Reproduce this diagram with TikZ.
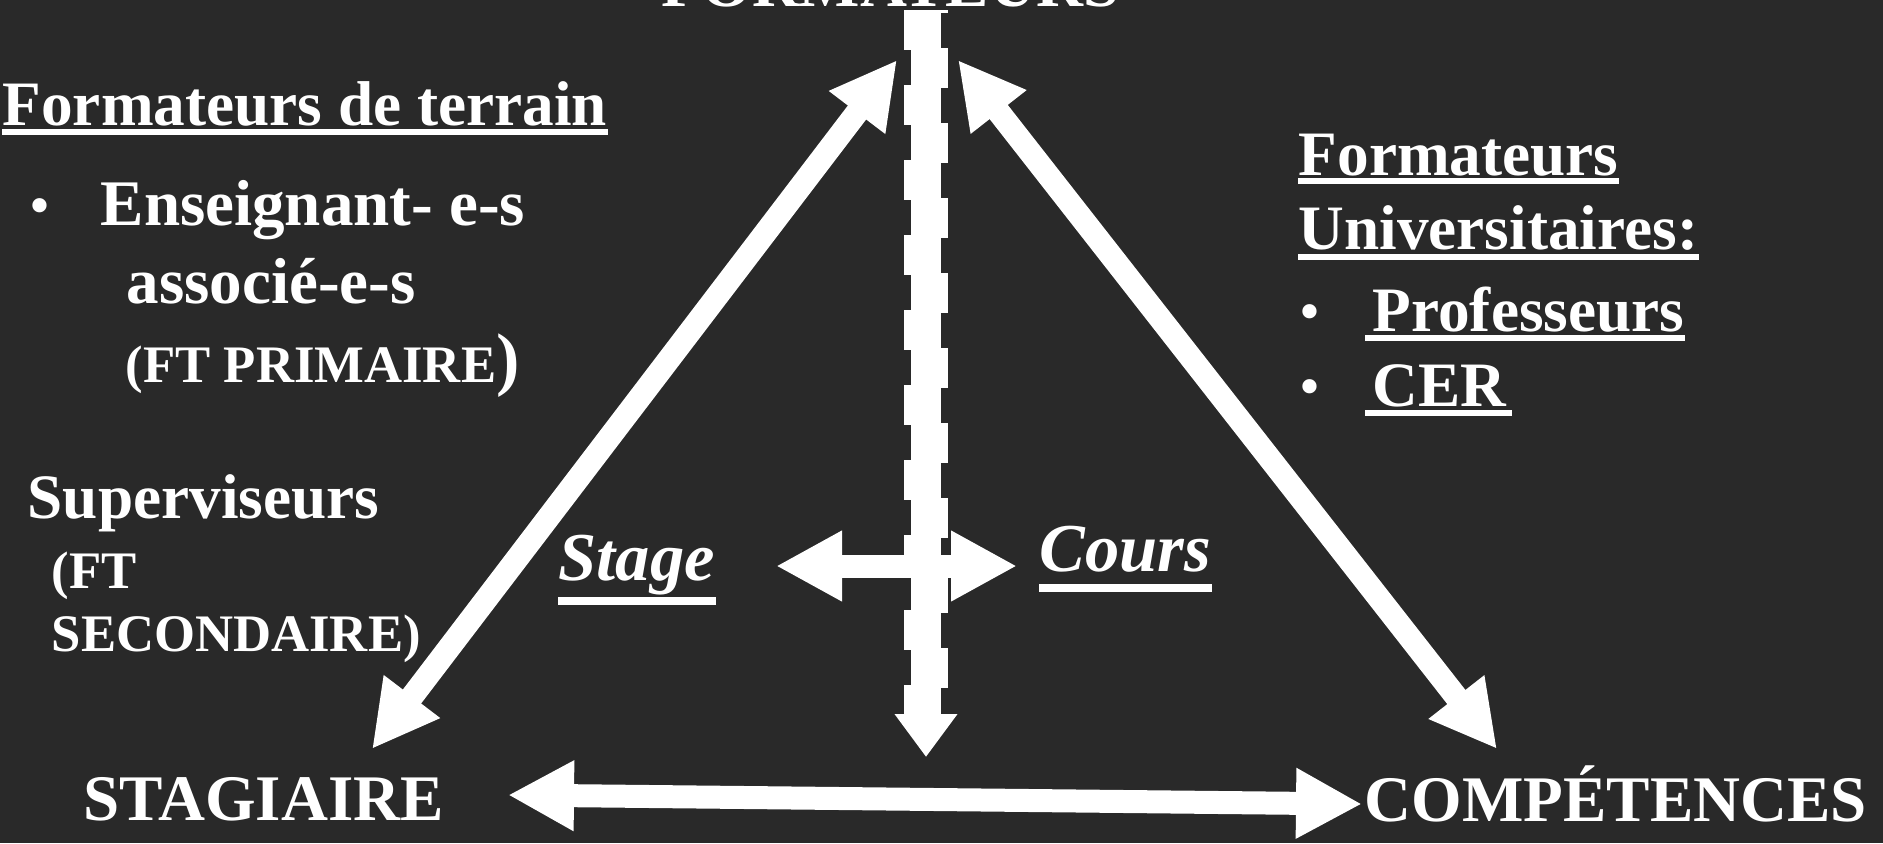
\documentclass[tikz,border=0pt]{standalone}
\usepackage{fontspec}
\setmainfont{Liberation Serif}
\usepackage{tikz}
\usetikzlibrary{arrows.meta}

\begin{document}
\begin{tikzpicture}[
  txt/.style={text=white, inner sep=0pt, anchor=base west, font=\bfseries\fontsize{18}{20}\selectfont},
  grandcap/.style={txt, font=\bfseries\fontsize{18.5}{20}\selectfont},
  petitcap/.style={txt, font=\bfseries\fontsize{15}{18}\selectfont},
  ital/.style={txt, font=\bfseries\itshape\fontsize{19.5}{22}\selectfont},
  puce/.style={text=white, inner sep=0pt, anchor=base, font=\fontsize{17}{17}\selectfont},
  souligne/.style={draw=white, line width=0.06cm},
  fleche/.style={draw=white, line width=0.23cm,
    {Triangle[length=0.66cm,width=0.66cm]}-{Triangle[length=0.66cm,width=0.66cm]}},
]
% --- FOND ARDOISE, TEXTES BLANCS ---
\definecolor{ardoise}{HTML}{292929}

\useasboundingbox (0,0) rectangle (18.83,-8.43);
\clip (0,0) rectangle (18.83,-8.43);
\fill[ardoise] (0,0) rectangle (18.83,-8.43);

% LAYER 1: Points des fleches
\coordinate (fgH) at (8.97,-0.60);
\coordinate (fgB) at (3.72,-7.49);
\coordinate (fdH) at (9.58,-0.60);
\coordinate (fdB) at (14.97,-7.49);
\coordinate (bG) at (5.08,-7.95);
\coordinate (bD) at (13.62,-8.04);
\coordinate (mG) at (7.76,-5.66);
\coordinate (mD) at (10.17,-5.66);
\coordinate (vH) at (9.26,-0.10);
\coordinate (vB) at (9.26,-7.57);
\coordinate (vC) at (9.26,-7.20);

% LAYER 2: Trait vertical en pointille
\draw[white, line width=0.30cm, -{Triangle[length=0.43cm,width=0.60cm]}] (vH) -- (vB);
\draw[white, line width=0.30cm, dash pattern=on 0.40cm off 0.35cm] ([xshift=-0.07cm]vH) -- ([xshift=-0.07cm]vC);
\draw[white, line width=0.30cm, dash pattern=on 0.40cm off 0.35cm, dash phase=0.37cm] ([xshift=0.07cm]vH) -- ([xshift=0.07cm]vC);

% LAYER 3: Fleches du triangle
\draw[fleche] (fgH) -- (fgB);
\draw[fleche] (fdH) -- (fdB);
\draw[fleche] (bG) -- (bD);
\draw[fleche] (mG) -- (mD);

% LAYER 4: Sommets
\node[grandcap] (form) at (6.61,-0.07) {FORMATEURS};
\node[grandcap] (stag) at (0.83,-8.20) {STAGIAIRE};
\node[grandcap] (comp) at (13.64,-8.21) {COMPÉTENCES};

% LAYER 5: Formateurs de terrain
\node[txt] (fterrain) at (0.02,-1.25) {Formateurs de terrain};
\draw[souligne] ([yshift=-0.07cm]fterrain.base west) -- ([yshift=-0.07cm]fterrain.base east);
\node[puce] (p1) at (0.40,-2.25) {•};
\node[grandcap] (ens) at (1.00,-2.25) {Enseignant- e-s};
\node[grandcap] (asso) at (1.26,-3.03) {associé-e-s};
\node[petitcap] (ftp) at (1.25,-3.82) {(FT PRIMAIRE{\fontsize{20}{20}\selectfont)}};
\node[txt] (sup) at (0.27,-5.18) {Superviseurs};
\node[petitcap] (ft2) at (0.51,-5.88) {(FT};
\node[petitcap] (sec) at (0.51,-6.51) {SECONDAIRE)};

% LAYER 6: Stage / Cours
\node[ital] (stage) at (5.58,-5.80) {Stage};
\draw[souligne, line width=0.08cm] ([yshift=-0.21cm]stage.base west) -- ([yshift=-0.21cm]stage.base east);
\node[ital] (cours) at (10.39,-5.71) {Cours};
\draw[souligne, line width=0.08cm] ([yshift=-0.17cm]cours.base west) -- ([yshift=-0.17cm]cours.base east);

% LAYER 7: Formateurs universitaires
\node[txt] (fu1) at (12.98,-1.75) {Formateurs};
\draw[souligne] ([yshift=-0.06cm]fu1.base west) -- ([yshift=-0.06cm]fu1.base east);
\node[txt] (fu2) at (12.98,-2.49) {Universitaires:};
\draw[souligne] ([yshift=-0.08cm]fu2.base west) -- ([yshift=-0.08cm]fu2.base east);
\node[puce] (p2) at (13.10,-3.31) {•};
\node[txt] (prof) at (13.72,-3.31) {Professeurs};
\draw[souligne] ([xshift=-0.07cm,yshift=-0.07cm]prof.base west) -- ([yshift=-0.07cm]prof.base east);
\node[puce] (p3) at (13.10,-4.06) {•};
\node[txt] (cer) at (13.72,-4.06) {CER};
\draw[souligne] ([xshift=-0.07cm,yshift=-0.07cm]cer.base west) -- ([xshift=0.05cm,yshift=-0.07cm]cer.base east);
\end{tikzpicture}
\end{document}
